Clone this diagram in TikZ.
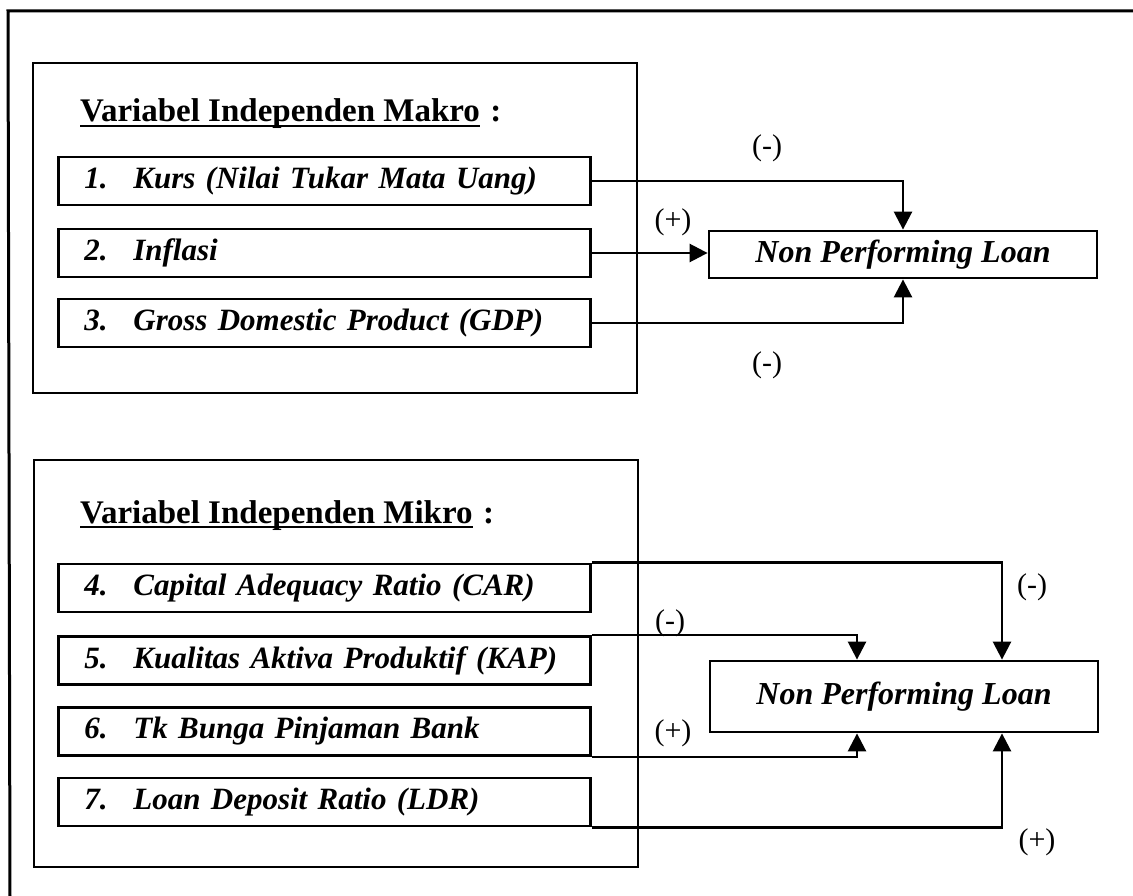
\documentclass[tikz,border=0pt]{standalone}
\usepackage{fontspec}
\setmainfont{Liberation Serif}
\usetikzlibrary{arrows.meta}

\begin{document}
\begin{tikzpicture}[x=1pt,y=-1pt,
  itembox/.style={draw,line width=2.8pt,anchor=west,text width=480pt,align=left,
    inner xsep=26pt,inner ysep=0pt,minimum height=48pt,
    font=\fontsize{31}{36}\selectfont\bfseries\itshape},
  nplbox/.style={draw,line width=2.8pt,inner sep=0pt,minimum width=388pt,
    font=\fontsize{32}{38}\selectfont\bfseries\itshape},
  heading/.style={inner sep=0pt,anchor=base west,font=\fontsize{33}{39}\selectfont\bfseries},
  link/.style={line width=2.6pt,-{Triangle[length=18pt,width=18pt]}},
  sign/.style={font=\fontsize{30}{36}\selectfont}]

\useasboundingbox (0,0) rectangle (1133,896);

\draw[line width=3pt](1133,11)--(8,11)--(10,896);

\draw[line width=2.8pt](33,63) rectangle (637,393);
\draw[line width=2.8pt](34,460) rectangle (638,867);

\node[heading](tmak) at (80,122){Variabel Independen Makro};
\node[heading](cmak) at ([xshift=10pt]tmak.base east){:};
\draw[line width=2pt]([yshift=-4pt]tmak.base west)--([yshift=-4pt]tmak.base east);

\node[itembox](k1) at (57,181){\makebox[49pt][l]{1.}Kurs (Nilai Tukar Mata Uang)};
\node[itembox](k2) at (57,253){\makebox[49pt][l]{2.}Inflasi};
\node[itembox](k3) at (57,323){\makebox[49pt][l]{3.}Gross Domestic Product (GDP)};

\node[nplbox,minimum height=47pt](n1) at (903,254.5){Non Performing Loan};

\draw[link](k1.east) -| (n1.north);
\draw[link](k2.east) -- (k2.east -| n1.west);
\draw[link](k3.east) -| (n1.south);

\node[sign](s1) at (767,148){(-)};
\node[sign](s2) at (673,222){(+)};
\node[sign](s3) at (767,365){(-)};

\node[heading](tmik) at (80,523){Variabel Independen Mikro};
\node[heading](cmik) at ([xshift=10pt]tmik.base east){:};
\draw[line width=2pt]([yshift=-4pt]tmik.base west)--([yshift=-4pt]tmik.base east);

\node[itembox](m4) at (57,588){\makebox[49pt][l]{4.}Capital Adequacy Ratio (CAR)};
\node[itembox](m5) at (57,660.5){\makebox[49pt][l]{5.}Kualitas Aktiva Produktif (KAP)};
\node[itembox](m6) at (57,731.5){\makebox[49pt][l]{6.}Tk Bunga Pinjaman Bank};
\node[itembox](m7) at (57,802){\makebox[49pt][l]{7.}Loan Deposit Ratio (LDR)};

\node[nplbox,minimum height=71pt](n2) at (904,696.5){Non Performing Loan};

\draw[link](m4.north east) -| ([xshift=98pt]n2.north);
\draw[link](m5.north east) -| ([xshift=-47pt]n2.north);
\draw[link](m6.south east) -| ([xshift=-47pt]n2.south);
\draw[link](m7.south east) -| ([xshift=98pt]n2.south);

\node[sign](s4) at (1032,587){(-)};
\node[sign](s5) at (670,623){(-)};
\node[sign](s6) at (673,733){(+)};
\node[sign](s7) at (1037,842){(+)};

\end{tikzpicture}
\end{document}
